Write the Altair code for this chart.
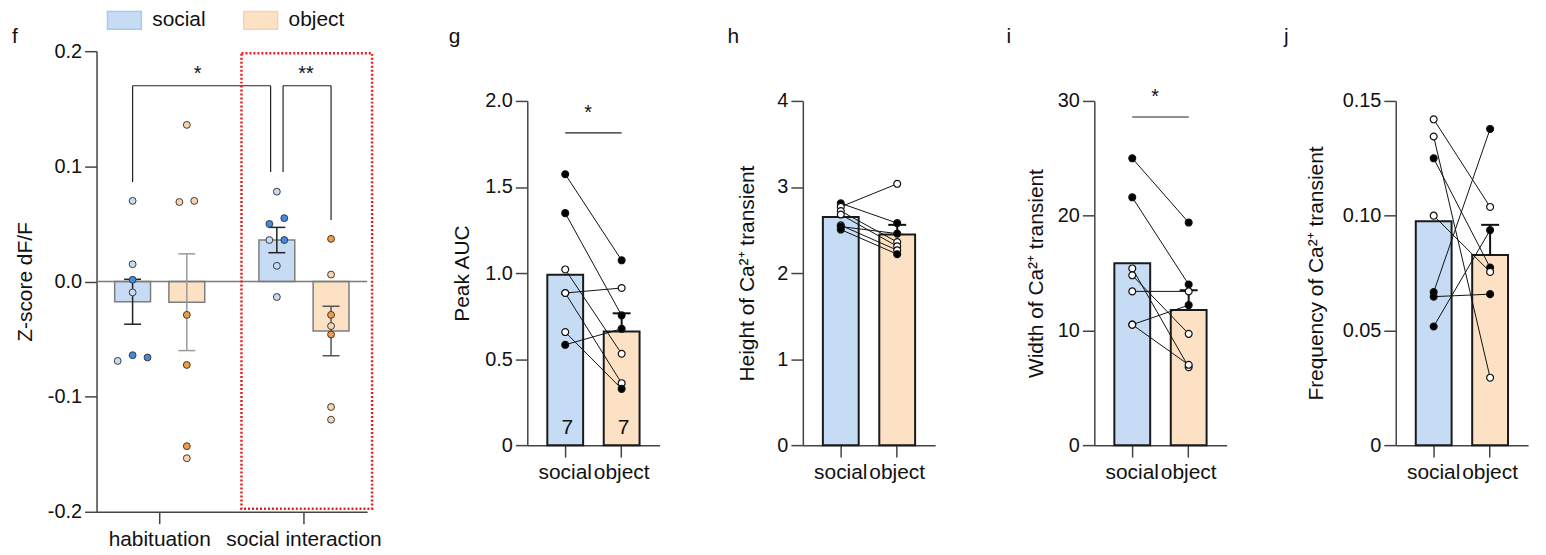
import altair as alt
import pandas as pd

FONT = "Liberation Sans"
FS = 20
FS_X = 21
FS_T = 21
INK = "#111111"
AXIS_COL = "#444444"
BLUE_BAR = "#C6DCF4"
ORANGE_BAR = "#FDE1C5"
BLUE_DARK = "#3F8BE3"
BLUE_LIGHT = "#C6DCF4"
ORANGE_DARK = "#F29B43"
ORANGE_LIGHT = "#FBD4AF"

H = 463          # common plot height (f panel plot area)
F_W = 272        # f panel x-range width
P_W = 133        # g-j panel x-range width
P_TOP = 50       # top of g-j y-range (relative to common top)
P_BOT = 396      # bottom of g-j y-range
PT_SIZE = 48

# ---------------- panel f data ----------------
f_groups = ["habituation", "social interaction"]
f_conds = ["social", "object"]
f_bar_group = ["habituation", "habituation", "social interaction", "social interaction"]
f_bar_cond = ["social", "object", "social", "object"]
f_bar_mean = [-0.0176, -0.018, 0.036, -0.043]
f_bar_sem = [0.0195, 0.042, 0.011, 0.0215]
f_err_color = ["#222222", "#9a9a9a", "#222222", "#555555"]

f_pt_group = ["habituation"] * 14 + ["social interaction"] * 14
f_pt_cond = (["social"] * 7 + ["object"] * 7) * 2
f_pt_value = [0.070, 0.015, 0.0015, -0.0095, -0.069, -0.064, -0.066,
              0.136, 0.069, 0.070, -0.029, -0.0725, -0.143, -0.1535,
              0.078, 0.050, 0.055, 0.036, 0.036, 0.0136, -0.0135,
              0.037, 0.006, -0.029, -0.0387, -0.046, -0.109, -0.120]
f_pt_tone = ["light", "light", "dark", "light", "light", "dark", "dark",
             "light", "light", "light", "dark", "dark", "dark", "light",
             "light", "dark", "dark", "light", "dark", "light", "light",
             "dark", "light", "dark", "light", "dark", "light", "light"]
f_pt_slot = [0, 0, 0, 0, -2, 0, 2,
             0, -1, 1, 0, 0, 0, 0,
             0, -1, 1, -1, 1, 0, 0,
             0, 0, 0, 0, 0, 0, 0]
f_yticks = [-0.2, -0.1, 0.0, 0.1, 0.2]
f_bracket_y = 0.17
f_leg_group = ["habituation", "social interaction", "social interaction", "social interaction"]
f_leg_bottom = [0.0865, 0.095, 0.095, 0.0535]
f_star_text = ["*", "**"]
f_star_group = ["habituation", "social interaction"]
f_star_y = 0.1754

# ---------------- panels g-j data ----------------
pair_conds = ["social", "object"]

g_social = [1.574, 1.348, 1.021, 0.884, 0.884, 0.657, 0.583]
g_social_fill = ["black", "black", "white", "white", "white", "white", "black"]
g_object = [1.074, 0.754, 0.531, 0.913, 0.360, 0.327, 0.676]
g_object_fill = ["black", "black", "white", "white", "white", "black", "black"]
g_bar = [0.99, 0.66]
g_obj_sem = 0.106
g_n = [7, 7]

h_social = [2.81, 2.77, 2.72, 2.68, 2.555, 2.54, 2.505]
h_social_fill = ["black", "white", "white", "white", "white", "black", "black"]
h_object = [2.58, 3.037, 2.36, 2.31, 2.265, 2.458, 2.219]
h_object_fill = ["black", "white", "white", "white", "white", "black", "black"]
h_bar = [2.65, 2.447]
h_obj_sem = 0.113

i_social = [25.0, 21.6, 15.4, 14.8, 13.4, 10.5, 10.5]
i_social_fill = ["black", "black", "white", "white", "white", "white", "white"]
i_object = [19.4, 14.0, 6.8, 9.7, 13.4, 12.2, 7.0]
i_object_fill = ["black", "black", "white", "white", "white", "black", "white"]
i_bar = [15.85, 11.77]
i_obj_sem = 1.73

j_social = [0.142, 0.1345, 0.125, 0.100, 0.0667, 0.0647, 0.0517]
j_social_fill = ["white", "white", "black", "white", "black", "black", "black"]
j_object = [0.1038, 0.0294, 0.0774, 0.0755, 0.1378, 0.0658, 0.0937]
j_object_fill = ["white", "white", "black", "white", "black", "black", "black"]
j_bar = [0.0976, 0.0829]
j_obj_sem = 0.0131


def text_layer(txt, x, y, align="center", size=FS):
    return alt.Chart(pd.DataFrame({"t": [txt]})).mark_text(
        font=FONT, fontSize=size, color=INK, align=align, baseline="alphabetic"
    ).encode(x=alt.value(x), y=alt.value(y), text="t:N")


# ================= panel f =================
def f_panel():
    fx = alt.Scale(domain=f_groups, range=[0, F_W], paddingInner=0.2, paddingOuter=0.038)
    fy = alt.Scale(domain=[-0.2, 0.2], range=[H, 0], nice=False, zero=False)
    fxo = alt.Scale(domain=f_conds, paddingInner=0.339, paddingOuter=0.2336)

    X = alt.X("group:N", scale=fx, sort=f_groups, title=None,
              axis=alt.Axis(labelAngle=0, labelPadding=5, labelOverlap=False, labelFontSize=FS_X,
                            labelExpr="datum.label == 'habituation' ? 'habituation\u00a0\u00a0' : datum.label"))

    def Y(field):
        return alt.Y(f"{field}:Q", scale=fy, title="Z-score dF/F",
                     axis=alt.Axis(values=f_yticks, labelPadding=3,
                                   labelExpr="datum.value < 0 ? '-' + format(-datum.value, '.1f') : format(datum.value, '.1f')",
                                   titleX=-71.5, titleY=H / 2, titleAngle=-90,
                                   titleAlign="center", titleBaseline="middle"))

    XO = alt.XOffset("cond:N", scale=fxo, sort=f_conds)

    bars = pd.DataFrame({"group": f_bar_group, "cond": f_bar_cond,
                         "value": f_bar_mean, "sem": f_bar_sem, "ecol": f_err_color})
    bars["lo"] = bars["value"] - bars["sem"]
    bars["hi"] = bars["value"] + bars["sem"]
    bars["fillc"] = [BLUE_BAR if c == "social" else ORANGE_BAR for c in bars["cond"]]

    layers = []
    # anchor that fixes the page origin (invisible)
    layers.append(alt.Chart(pd.DataFrame({"a": [0]})).mark_rect(opacity=0).encode(
        x=alt.value(-89), x2=alt.value(-86), y=alt.value(-42), y2=alt.value(-39)))

    layers.append(alt.Chart(bars).mark_bar(stroke="#7d7d7d", strokeWidth=1.5).encode(
        x=X, xOffset=XO, y=Y("value"), color=alt.Color("fillc:N", scale=None)))

    zero = pd.DataFrame({"value": [0.0]})
    layers.append(alt.Chart(zero).mark_rule(color="#7a7a7a", strokeWidth=1.5).encode(
        y=Y("value"), x=alt.value(0), x2=alt.value(F_W)))

    layers.append(alt.Chart(bars).mark_rule(strokeWidth=1.5).encode(
        x=X, xOffset=XO, y=Y("lo"), y2="hi:Q", color=alt.Color("ecol:N", scale=None)))
    for fld in ["lo", "hi"]:
        layers.append(alt.Chart(bars).mark_tick(size=17, thickness=1.5, orient="horizontal", opacity=1).encode(
            x=X, xOffset=XO, y=Y(fld), color=alt.Color("ecol:N", scale=None)))

    # brackets
    br = pd.DataFrame({"g1": ["habituation", "social interaction"],
                       "g2": ["social interaction", "social interaction"],
                       "value": [f_bracket_y, f_bracket_y]})
    layers.append(alt.Chart(br.iloc[[0]]).mark_rule(color="#222", strokeWidth=1.2, xOffset=-27.25, x2Offset=-33.5).encode(
        x=alt.X("g1:N", scale=fx, sort=f_groups, title=None), x2="g2:N", y=Y("value")))
    layers.append(alt.Chart(br.iloc[[1]]).mark_rule(color="#222", strokeWidth=1.2, xOffset=-21, x2Offset=27.25).encode(
        x=alt.X("g1:N", scale=fx, sort=f_groups, title=None), x2="g2:N", y=Y("value")))
    leg_offsets = [-27.25, -33.5, -21, 27.25]
    for grp, bot, off in zip(f_leg_group, f_leg_bottom, leg_offsets):
        d = pd.DataFrame({"group": [grp], "top": [f_bracket_y], "bot": [bot]})
        layers.append(alt.Chart(d).mark_rule(color="#222", strokeWidth=1.2, xOffset=off).encode(
            x=X, y=Y("top"), y2="bot:Q"))
    for txt, grp, dx in zip(f_star_text, f_star_group, [38, 2]):
        d = pd.DataFrame({"group": [grp], "value": [f_star_y], "t": [txt]})
        layers.append(alt.Chart(d).mark_text(font=FONT, fontSize=FS, color=INK, dx=dx,
                                             baseline="alphabetic").encode(x=X, y=Y("value"), text="t:N"))

    # points
    pts = pd.DataFrame({"group": f_pt_group, "cond": f_pt_cond, "value": f_pt_value,
                        "tone": f_pt_tone, "slot": f_pt_slot})
    colmap = {("social", "light"): BLUE_LIGHT, ("social", "dark"): BLUE_DARK,
              ("object", "light"): ORANGE_LIGHT, ("object", "dark"): ORANGE_DARK}
    pts["fillc"] = [colmap[(c, t)] for c, t in zip(pts["cond"], pts["tone"])]
    for cond, base in [("social", -27.25), ("object", 27.25)]:
        for slot in sorted(set(f_pt_slot)):
            sub = pts[(pts["cond"] == cond) & (pts["slot"] == slot)]
            if len(sub) == 0:
                continue
            layers.append(alt.Chart(sub).mark_circle(size=PT_SIZE, opacity=1, stroke="#3a3a3a", strokeWidth=1,
                                                     xOffset=base + slot * 7.5).encode(
                x=X, y=Y("value"), fill=alt.Fill("fillc:N", scale=None)))

    # red dotted box
    layers.append(alt.Chart(pd.DataFrame({"a": [0]})).mark_rect(
        fill=None, filled=False, stroke="#ee1c1c", strokeWidth=2.5, strokeDash=[2, 2]).encode(
        x=alt.value(145.7), x2=alt.value(277), y=alt.value(2), y2=alt.value(460)))

    # legend
    leg_fill = [BLUE_BAR, ORANGE_BAR]
    leg_stroke = ["#aac8ec", "#f6d2b2"]
    leg_x = [11, 148]
    for cond, fc, sc, lx in zip(f_conds, leg_fill, leg_stroke, leg_x):
        layers.append(alt.Chart(pd.DataFrame({"c": [cond]})).mark_rect(fill=fc, stroke=sc, strokeWidth=1.5).encode(
            x=alt.value(lx), x2=alt.value(lx + 34), y=alt.value(-40), y2=alt.value(-22)))
        layers.append(text_layer(cond, lx + 45, -25, align="left", size=FS_X))

    layers.append(text_layer("f", -82, -8, size=FS_X))
    return alt.layer(*layers).properties(width=433, height=H)


# ================= panels g-j =================
def pair_panel(letter, letter_x, social, social_fill, obj, obj_fill, bar_vals, obj_sem,
               ymax, yticks, ylabel_expr, ytitle, title_x, width, sig=None, n_labels=None):
    xs = alt.Scale(domain=pair_conds, range=[0, P_W], paddingInner=0.365, paddingOuter=0.355)
    ys = alt.Scale(domain=[0, ymax], range=[P_BOT, P_TOP], nice=False, zero=True)

    xaxis = alt.Axis(labelAngle=0, offset=-(H - P_BOT), labelPadding=5, labelOverlap=False,
                     labelFontSize=FS_X)
    X = alt.X("cond:N", scale=xs, sort=pair_conds, title=None, axis=xaxis)

    def Y(field):
        return alt.Y(f"{field}:Q", scale=ys, title=ytitle,
                     axis=alt.Axis(values=yticks, labelExpr=ylabel_expr, labelPadding=3,
                                   titleX=title_x, titleY=(P_TOP + P_BOT) / 2, titleAngle=-90,
                                   titleAlign="center", titleBaseline="middle"))

    bars = pd.DataFrame({"cond": pair_conds, "value": bar_vals,
                         "fillc": [BLUE_BAR, ORANGE_BAR]})
    n = len(social)
    pts = pd.DataFrame({
        "id": list(range(n)) + list(range(n)),
        "cond": ["social"] * n + ["object"] * n,
        "value": social + obj,
        "fillc": social_fill + obj_fill,
    })
    err = pd.DataFrame({"cond": ["object"], "lo": [bar_vals[1]], "hi": [bar_vals[1] + obj_sem]})

    layers = [
        alt.Chart(bars).mark_bar(stroke="#1a1a1a", strokeWidth=2).encode(
            x=X, y=Y("value"), color=alt.Color("fillc:N", scale=None)),
        alt.Chart(err).mark_rule(color="#111", strokeWidth=2).encode(x=X, y=Y("lo"), y2="hi:Q"),
        alt.Chart(err).mark_tick(color="#111", size=18, thickness=2, orient="horizontal", opacity=1).encode(
            x=X, y=Y("hi")),
        alt.Chart(pts).mark_line(color="#111", strokeWidth=1).encode(
            x=X, y=Y("value"), detail="id:N"),
        alt.Chart(pts).mark_circle(size=PT_SIZE, opacity=1, stroke="#111", strokeWidth=1.2).encode(
            x=X, y=Y("value"), fill=alt.Fill("fillc:N", scale=None)),
    ]
    if sig is not None:
        line_y, star_y = sig
        sd = pd.DataFrame({"a": ["social"], "b": ["object"], "value": [line_y]})
        layers.append(alt.Chart(sd).mark_rule(color="#222", strokeWidth=1.2).encode(
            x=alt.X("a:N", scale=xs, sort=pair_conds, title=None, axis=xaxis),
            x2="b:N", y=Y("value")))
        st = pd.DataFrame({"cond": ["social"], "value": [star_y], "t": ["*"]})
        layers.append(alt.Chart(st).mark_text(font=FONT, fontSize=FS, color=INK, dx=23,
                                              baseline="alphabetic").encode(x=X, y=Y("value"), text="t:N"))
    if n_labels is not None:
        nd = pd.DataFrame({"cond": pair_conds, "t": [str(v) for v in n_labels]})
        layers.append(alt.Chart(nd).mark_text(font=FONT, fontSize=FS_X, color=INK, dx=2,
                                              baseline="alphabetic").encode(
            x=X, y=alt.value(385), text="t:N"))
    layers.append(text_layer(letter, letter_x, -8, size=FS_X))
    return alt.layer(*layers).properties(width=width, height=H)


def dec_expr(d):
    return f"datum.value == 0 ? '0' : format(datum.value, '.{d}f')"


g = pair_panel("g", -73, g_social, g_social_fill, g_object, g_object_fill, g_bar, g_obj_sem,
               2.0, [0, 0.5, 1.0, 1.5, 2.0], dec_expr(1), "Peak AUC", -65, 277,
               sig=(1.814, 1.896), n_labels=g_n)
h = pair_panel("h", -70, h_social, h_social_fill, h_object, h_object_fill, h_bar, h_obj_sem,
               4, [0, 1, 2, 3, 4], "format(datum.value, 'd')", "Height of Ca\u00b2\u207a transient", -56, 293)
i = pair_panel("i", -86, i_social, i_social_fill, i_object, i_object_fill, i_bar, i_obj_sem,
               30, [0, 10, 20, 30], "format(datum.value, 'd')", "Width of Ca\u00b2\u207a transient", -58, 303,
               sig=(28.6, 29.8))
j = pair_panel("j", -110, j_social, j_social_fill, j_object, j_object_fill, j_bar, j_obj_sem,
               0.15, [0, 0.05, 0.10, 0.15], dec_expr(2), "Frequency of Ca\u00b2\u207a transient", -80, 143)

chart = alt.hconcat(f_panel(), g, h, i, j, spacing=0, bounds="flush", padding=0).configure_view(
    stroke=None
).configure_axis(
    labelFont=FONT, labelFontSize=FS, labelColor=INK,
    titleFont=FONT, titleFontSize=FS_T, titleFontWeight="normal", titleColor=INK,
    domainColor=AXIS_COL, tickColor=AXIS_COL, domainWidth=1.5, tickWidth=1.5, tickSize=12,
    grid=False
).configure_text(font=FONT)

chart.save("out.html", embed_options={"renderer": "svg", "actions": False})
